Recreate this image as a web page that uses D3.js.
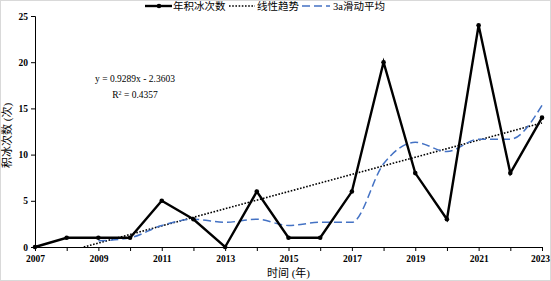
<!DOCTYPE html>
<html>
<head>
<meta charset="utf-8">
<script src="https://cdn.jsdelivr.net/npm/d3@7"></script>
<style>
  body { margin: 0; background: #fff; }
  svg text { font-family: "Liberation Serif", "Noto Sans CJK SC", serif; fill: #000; }
</style>
</head>
<body>
<svg id="chart"></svg>
<script>
// data
const years = [2007, 2008, 2009, 2010, 2011, 2012, 2013, 2014, 2015, 2016, 2017, 2018, 2019, 2020, 2021, 2022, 2023];
const counts = [0, 1, 1, 1, 5, 3, 0, 6, 1, 1, 6, 20, 8, 3, 24, 8, 14];
const avgYears = [2009, 2010, 2011, 2012, 2013, 2014, 2015, 2016, 2017, 2018, 2019, 2020, 2021, 2022, 2023];
const avgValues = [0.67, 1, 2.33, 3, 2.67, 3, 2.33, 2.67, 2.67, 9, 11.33, 10.33, 11.67, 11.67, 15.33];
const trendYears = [2008.54, 2023];
const trendValues = [0, 13.43];
const yTicks = [0, 5, 10, 15, 20, 25];
const xLabelYears = [2007, 2009, 2011, 2013, 2015, 2017, 2019, 2021, 2023];

const width = 551;
const height = 281;
const margin = { left: 35, right: 9, top: 16, bottom: 34 };

const svg = d3.select('svg#chart').attr('width', width).attr('height', height);

// light frame round the chart
svg.append('rect')
  .attr('x', 0.5).attr('y', 0.5)
  .attr('width', width - 1).attr('height', height - 1)
  .attr('fill', 'none').attr('stroke', '#d9d9d9');

const x = d3.scaleLinear().domain([2007, 2023]).range([margin.left, width - margin.right]);
const y = d3.scaleLinear().domain([0, 25]).range([height - margin.bottom, margin.top]);

// y axis
const yAxis = svg.append('g')
  .attr('transform', `translate(${margin.left},0)`)
  .call(d3.axisLeft(y).tickValues(yTicks).tickSize(4).tickPadding(3));
yAxis.selectAll('text').style('font-size', '9.5px').style('font-weight', 'bold');

// x axis
const xAxis = svg.append('g')
  .attr('transform', `translate(0,${y(0)})`)
  .call(d3.axisBottom(x).tickValues(years).tickSize(4).tickPadding(4)
    .tickFormat(d => xLabelYears.includes(d) ? d : ''));
xAxis.selectAll('text').style('font-size', '9.5px').style('font-weight', 'bold');
// last label sits at the right edge, nudge it inside
xAxis.selectAll('text').filter(d => d === 2023).attr('dx', -2);

svg.selectAll('.domain, .tick line').attr('stroke', '#000').attr('stroke-width', 1);

// titles
svg.append('text')
  .attr('transform', `translate(11, ${(y(0) + y(25)) / 2 + 4}) rotate(-90)`)
  .attr('text-anchor', 'middle')
  .style('font-size', '11px')
  .text('积冰次数 (次)');

svg.append('text')
  .attr('x', (x(2007) + x(2023)) / 2)
  .attr('y', 277)
  .attr('text-anchor', 'middle')
  .style('font-size', '11px')
  .text('时间 (年)');

// trend line
svg.append('path')
  .datum(trendYears.map((d, i) => [d, trendValues[i]]))
  .attr('fill', 'none')
  .attr('stroke', '#000')
  .attr('stroke-width', 1.6)
  .attr('stroke-dasharray', '1.6,1.6')
  .attr('d', d3.line().x(d => x(d[0])).y(d => y(d[1])));

// moving average
svg.append('path')
  .datum(avgYears.map((d, i) => [d, avgValues[i]]))
  .attr('fill', 'none')
  .attr('stroke', '#4472C4')
  .attr('stroke-width', 1.5)
  .attr('stroke-dasharray', '8,4')
  .attr('d', d3.line().curve(d3.curveMonotoneX).x(d => x(d[0])).y(d => y(d[1])));

// yearly counts
svg.append('path')
  .datum(years.map((d, i) => [d, counts[i]]))
  .attr('fill', 'none')
  .attr('stroke', '#000')
  .attr('stroke-width', 2.4)
  .attr('stroke-linejoin', 'miter')
  .attr('d', d3.line().x(d => x(d[0])).y(d => y(d[1])));

svg.append('g').selectAll('circle')
  .data(years.map((d, i) => [d, counts[i]]))
  .enter().append('circle')
  .attr('cx', d => x(d[0]))
  .attr('cy', d => y(d[1]))
  .attr('r', 2.3)
  .attr('fill', '#000');

// equation
svg.append('text')
  .attr('x', 135).attr('y', 82)
  .attr('text-anchor', 'middle')
  .style('font-size', '9.5px')
  .text('y = 0.9289x - 2.3603');
const r2 = svg.append('text')
  .attr('x', 135).attr('y', 98)
  .attr('text-anchor', 'middle')
  .style('font-size', '9.5px');
r2.append('tspan').text('R');
r2.append('tspan').attr('dy', -3).style('font-size', '6px').text('2');
r2.append('tspan').attr('dy', 3).text(' = 0.4357');

// legend
const legY = 6;
const legend = svg.append('g');
legend.append('line')
  .attr('x1', 145).attr('x2', 172).attr('y1', legY).attr('y2', legY)
  .attr('stroke', '#000').attr('stroke-width', 2.4);
legend.append('circle').attr('cx', 159).attr('cy', legY).attr('r', 2.3).attr('fill', '#000');
legend.append('text').attr('x', 173).attr('y', legY + 4).style('font-size', '10.5px').text('年积冰次数');

legend.append('line')
  .attr('x1', 229).attr('x2', 255).attr('y1', legY).attr('y2', legY)
  .attr('stroke', '#000').attr('stroke-width', 1.6).attr('stroke-dasharray', '1.6,1.6');
legend.append('text').attr('x', 257).attr('y', legY + 4).style('font-size', '10.5px').text('线性趋势');

legend.append('line')
  .attr('x1', 302).attr('x2', 330).attr('y1', legY).attr('y2', legY)
  .attr('stroke', '#4472C4').attr('stroke-width', 1.5).attr('stroke-dasharray', '8,4');
legend.append('text').attr('x', 333).attr('y', legY + 4).style('font-size', '10.5px').text('3a滑动平均');
</script>
</body>
</html>
